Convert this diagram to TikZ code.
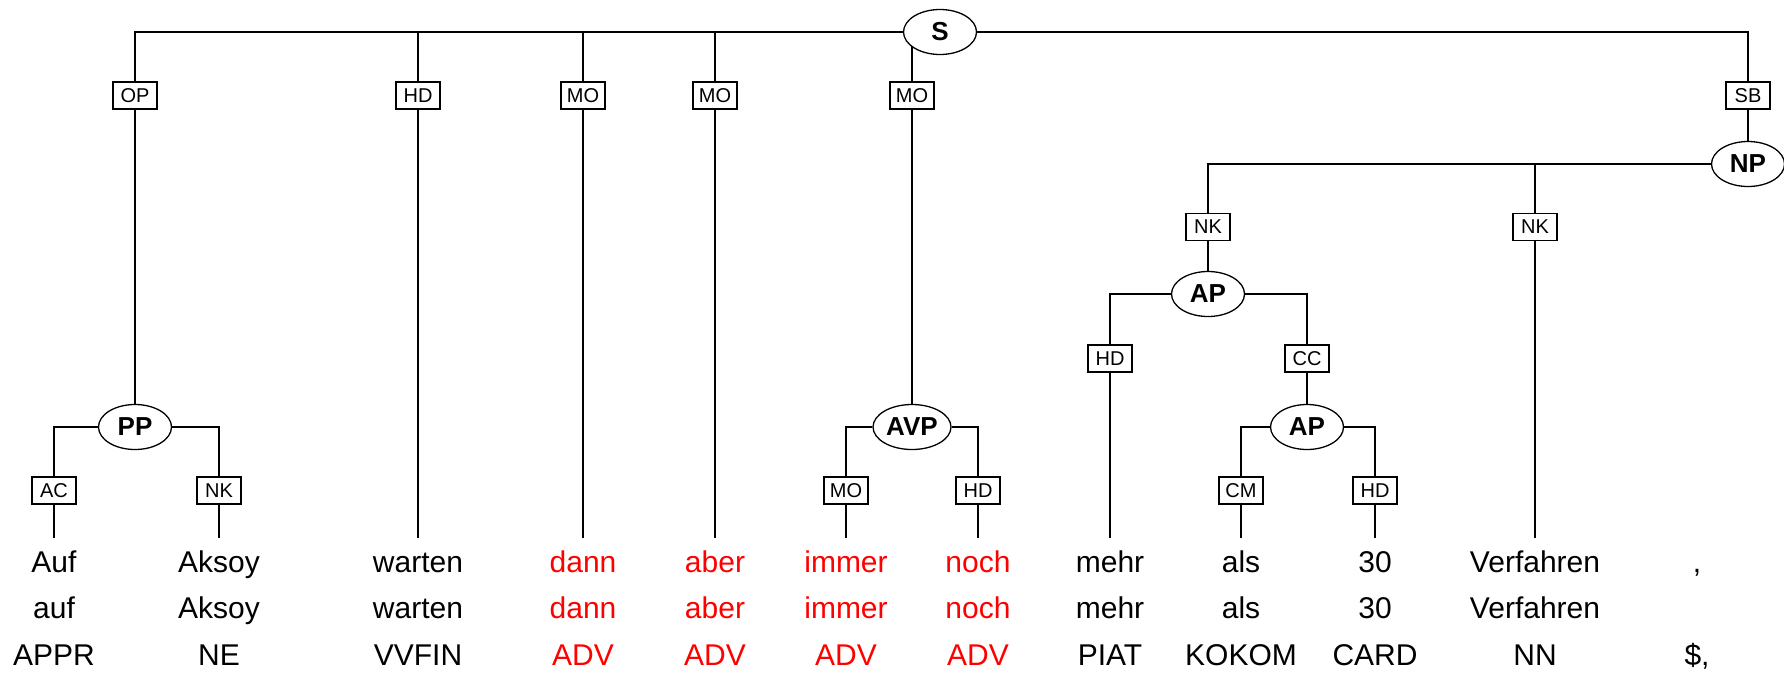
\documentclass[tikz,border=0pt]{standalone}
\usepackage{fontspec}
\setmainfont{Liberation Sans}
\usetikzlibrary{shapes.geometric,backgrounds}
\definecolor{wred}{RGB}{255,0,0}
\tikzset{
 cat/.style={ellipse,draw,fill=white,line width=1.3pt,minimum width=73pt,minimum height=45pt,inner sep=0pt,font=\fontsize{26}{30}\selectfont\bfseries},
 lab/.style={rectangle,draw,fill=white,line width=1.6pt,minimum width=44pt,minimum height=27pt,inner sep=0pt,font=\fontsize{20}{22}\selectfont},
 word/.style={anchor=base,inner sep=0pt,text height=34pt,font=\fontsize{30}{36}\selectfont},
 tok/.style={anchor=base,inner sep=0pt,font=\fontsize{30}{36}\selectfont},
 edge/.style={line width=1.6pt},
 adv/.style={text=wred},
}
\begin{document}
\begin{tikzpicture}[x=1pt,y=-1pt]
\useasboundingbox (0,0) rectangle (1784,672);
% categories
\node[cat] (S) at (940,32) {S};
\node[cat] (NP) at (1748,164) {NP};
\node[cat] (AP1) at (1208,294) {AP};
\node[cat] (AP2) at (1307,427) {AP};
\node[cat] (PP) at (135,427) {PP};
\node[cat,minimum width=78pt] (AVP) at (912,427) {AVP};
% edge labels
\node[lab] (lOP) at (135,95.5) {OP};
\node[lab] (lHDa) at (418,95.5) {HD};
\node[lab] (lMOa) at (583,95.5) {MO};
\node[lab] (lMOb) at (715,95.5) {MO};
\node[lab] (lMOc) at (912,95.5) {MO};
\node[lab] (lSB) at (1748,95.5) {SB};
\node[lab] (lNKa) at (1208,227) {NK};
\node[lab] (lNKb) at (1535,227) {NK};
\node[lab] (lHDb) at (1110,358.5) {HD};
\node[lab] (lCC) at (1307,358.5) {CC};
\node[lab] (lAC) at (54,490.5) {AC};
\node[lab] (lNKc) at (219,490.5) {NK};
\node[lab] (lMOd) at (846,490.5) {MO};
\node[lab] (lHDc) at (978,490.5) {HD};
\node[lab] (lCM) at (1241,490.5) {CM};
\node[lab] (lHDd) at (1375,490.5) {HD};
% words, lemmas, tags
\node[word] (w1) at (54,572) {Auf};
\node[word] (w2) at (219,572) {Aksoy};
\node[word] (w3) at (418,572) {warten};
\node[word,adv] (w4) at (583,572) {dann};
\node[word,adv] (w5) at (715,572) {aber};
\node[word,adv] (w6) at (846,572) {immer};
\node[word,adv] (w7) at (978,572) {noch};
\node[word] (w8) at (1110,572) {mehr};
\node[word] (w9) at (1241,572) {als};
\node[word] (w10) at (1375,572) {30};
\node[word] (w11) at (1535,572) {Verfahren};
\node[word] (w12) at (1697,572) {,};
\node[tok] (m1) at (54,618) {auf};
\node[tok] (m2) at (219,618) {Aksoy};
\node[tok] (m3) at (418,618) {warten};
\node[tok,adv] (m4) at (583,618) {dann};
\node[tok,adv] (m5) at (715,618) {aber};
\node[tok,adv] (m6) at (846,618) {immer};
\node[tok,adv] (m7) at (978,618) {noch};
\node[tok] (m8) at (1110,618) {mehr};
\node[tok] (m9) at (1241,618) {als};
\node[tok] (m10) at (1375,618) {30};
\node[tok] (m11) at (1535,618) {Verfahren};
\node[tok] (t1) at (54,665) {APPR};
\node[tok] (t2) at (219,665) {NE};
\node[tok] (t3) at (418,665) {VVFIN};
\node[tok,adv] (t4) at (583,665) {ADV};
\node[tok,adv] (t5) at (715,665) {ADV};
\node[tok,adv] (t6) at (846,665) {ADV};
\node[tok,adv] (t7) at (978,665) {ADV};
\node[tok] (t8) at (1110,665) {PIAT};
\node[tok] (t9) at (1241,665) {KOKOM};
\node[tok] (t10) at (1375,665) {CARD};
\node[tok] (t11) at (1535,665) {NN};
\node[tok] (t12) at (1697,665) {\$,};
% connectors
\begin{scope}[on background layer]
\draw[edge] (S) -| (lOP);
\draw[edge] (lOP) -- (PP);
\draw[edge] (PP) -| (lAC);
\draw[edge] (lAC) -- (w1);
\draw[edge] (PP) -| (lNKc);
\draw[edge] (lNKc) -- (w2);
\draw[edge] (S) -| (lHDa);
\draw[edge] (lHDa) -- (w3);
\draw[edge] (S) -| (lMOa);
\draw[edge] (lMOa) -- (w4);
\draw[edge] (S) -| (lMOb);
\draw[edge] (lMOb) -- (w5);
\draw[edge] (S.center) -| (lMOc);
\draw[edge] (lMOc) -- (AVP);
\draw[edge] (AVP) -| (lMOd);
\draw[edge] (lMOd) -- (w6);
\draw[edge] (AVP) -| (lHDc);
\draw[edge] (lHDc) -- (w7);
\draw[edge] (S) -| (lSB);
\draw[edge] (lSB) -- (NP);
\draw[edge] (NP) -| (lNKa);
\draw[edge] (lNKa) -- (AP1);
\draw[edge] (AP1) -| (lHDb);
\draw[edge] (lHDb) -- (w8);
\draw[edge] (AP1) -| (lCC);
\draw[edge] (lCC) -- (AP2);
\draw[edge] (AP2) -| (lCM);
\draw[edge] (lCM) -- (w9);
\draw[edge] (AP2) -| (lHDd);
\draw[edge] (lHDd) -- (w10);
\draw[edge] (NP) -| (lNKb);
\draw[edge] (lNKb) -- (w11);
\end{scope}
\end{tikzpicture}
\end{document}
